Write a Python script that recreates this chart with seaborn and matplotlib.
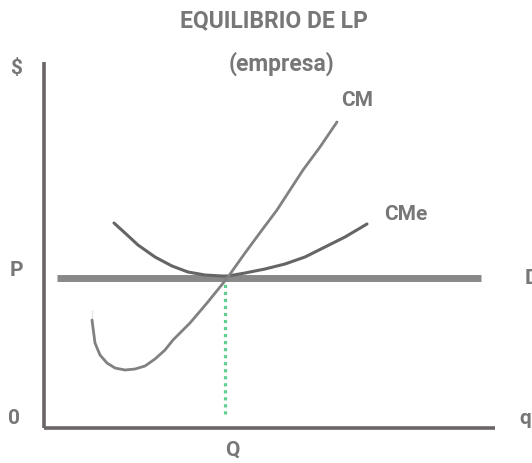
import numpy as np
import pandas as pd
import matplotlib.pyplot as plt
import seaborn as sns

# curve points (q, $) with origin at the axes corner
cm_q = [48, 48, 48, 51, 56, 63, 71, 81, 91, 101, 111, 121, 129, 146, 163, 176,
        184, 201, 218, 233, 259, 276, 293]
cm_p = [118, 108, 98, 85, 73, 65, 60, 58, 59, 62, 69, 78, 88, 105, 125, 141,
        151, 175, 198, 218, 258, 281, 306]

cme_q = [70, 81, 94, 111, 128, 144, 161, 178, 184, 201, 221, 241, 261, 281, 301, 323]
cme_p = [205, 195, 183, 171, 162, 156, 153, 152, 152, 155, 159, 164, 171, 181, 191, 204]

price_p = 150
demand_q = [13, 437]
eq_q = 181
eq_bottom = 14

cm = pd.DataFrame({"q": cm_q, "p": cm_p})
cme = pd.DataFrame({"q": cme_q, "p": cme_p})

sns.set_style("white")
plt.rcParams['font.family'] = ['Roboto', 'DejaVu Sans']
txt = "#777777"

fig = plt.figure(figsize=(5.32, 4.63), dpi=100)
ax = fig.add_axes([0, 0, 1, 1])
ax.set_xlim(-44, 488)
ax.set_ylim(-35, 428)
ax.axis("off")

# axes of the diagram
ax.plot([0, 0], [0, 366], color="#6b6666", lw=2.6, solid_capstyle="butt")
ax.plot([0, 451], [0, 0], color="#6b6666", lw=2.6, solid_capstyle="butt")

# demand (price line)
ax.plot(demand_q, [price_p, price_p], color="#888888", lw=5, solid_capstyle="butt")

sns.lineplot(data=cme, x="q", y="p", sort=False, ax=ax, color="#676464", lw=2.2)
sns.lineplot(data=cm, x="q", y="p", sort=False, ax=ax, color="#828181", lw=2.0)

ax.plot([eq_q, eq_q], [eq_bottom, price_p - 5], color="#5fd08f", lw=2.3,
        linestyle=(0, (1, 1.2)))

fw = "bold"
ax.text(230, 407, "EQUILIBRIO DE LP", ha="center", va="center", fontsize=16.5, color=txt, fontweight=fw)
ax.text(237, 364, "(empresa)", ha="center", va="center", fontsize=16.5, color=txt, fontweight=fw)
ax.text(-28, 360, "$", ha="center", va="center", fontsize=15, color=txt, fontweight=fw)
ax.text(-28, 158, "P", ha="center", va="center", fontsize=15, color=txt, fontweight=fw)
ax.text(-30, 10, "0", ha="center", va="center", fontsize=15, color=txt, fontweight=fw)
ax.text(487, 150, "D", ha="center", va="center", fontsize=15, color=txt, fontweight=fw)
ax.text(481, 10, "q", ha="center", va="center", fontsize=15, color=txt, fontweight=fw)
ax.text(188, -22, "Q", ha="center", va="center", fontsize=15, color=txt, fontweight=fw)
ax.text(313, 328, "CM", ha="center", va="center", fontsize=15, color=txt, fontweight=fw)
ax.text(362, 213, "CMe", ha="center", va="center", fontsize=15, color=txt, fontweight=fw)

plt.savefig("out.png", dpi=100)
